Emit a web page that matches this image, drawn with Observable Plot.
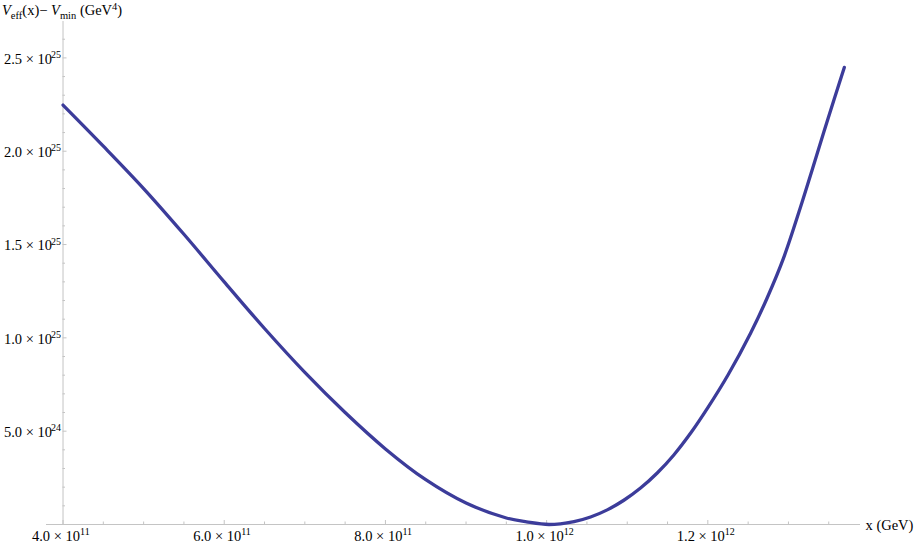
<!DOCTYPE html>
<html>
<head>
<meta charset="utf-8">
<script src="https://cdn.jsdelivr.net/npm/d3@7"></script>
<script src="https://cdn.jsdelivr.net/npm/@observablehq/plot@0.6"></script>
<style>
  html, body { margin: 0; padding: 0; background: #fff; }
  #chart { width: 914px; height: 543px; }
</style>
</head>
<body>
<div id="chart"></div>
<script>
// Curve samples (x in GeV, V_eff(x) - V_min in GeV^4)
const xValues = [
  4.00e11, 4.50e11, 5.00e11, 5.50e11, 6.00e11, 6.50e11, 7.00e11, 7.50e11,
  8.00e11, 8.50e11, 9.00e11, 9.50e11, 9.75e11, 1.003e12, 1.034e12, 1.0545e12,
  1.0752e12, 1.0958e12, 1.1165e12, 1.1372e12, 1.1578e12, 1.1785e12, 1.200e12, 1.225e12,
  1.253e12, 1.2737e12, 1.2939e12, 1.3168e12, 1.3293e12, 1.3478e12, 1.3693e12
];
const yValues = [
  2.247e25, 2.027e25, 1.800e25, 1.555e25, 1.300e25, 1.050e25, 0.815e25, 0.600e25,
  0.405e25, 0.240e25, 0.115e25, 0.035e25, 0.014e25, 0.000e25, 0.0155e25, 0.0401e25,
  0.0784e25, 0.1299e25, 0.1951e25, 0.2758e25, 0.3726e25, 0.4885e25, 0.6261e25, 0.801e25,
  1.025e25, 1.215e25, 1.427e25, 1.725e25, 1.898e25, 2.157e25, 2.449e25
];

// Axis ticks and labels
const xMajorTicks = [4e11, 6e11, 8e11, 1e12, 1.2e12];
const xTickMantissas = ["4.0 \u00d7 10", "6.0 \u00d7 10", "8.0 \u00d7 10", "1.0 \u00d7 10", "1.2 \u00d7 10"];
const xTickExponents = ["11", "11", "11", "12", "12"];
const xMinorTicks = [4.5e11, 5e11, 5.5e11, 6.5e11, 7e11, 7.5e11, 8.5e11, 9e11, 9.5e11,
  1.05e12, 1.1e12, 1.15e12, 1.25e12, 1.3e12, 1.35e12];
const yMajorTicks = [5e24, 1e25, 1.5e25, 2e25, 2.5e25];
const yTickMantissas = ["5.0 \u00d7 10", "1.0 \u00d7 10", "1.5 \u00d7 10", "2.0 \u00d7 10", "2.5 \u00d7 10"];
const yTickExponents = ["24", "25", "25", "25", "25"];
const yMinorTicks = [1e24, 2e24, 3e24, 4e24, 6e24, 7e24, 8e24, 9e24,
  1.1e25, 1.2e25, 1.3e25, 1.4e25, 1.6e25, 1.7e25, 1.8e25, 1.9e25,
  2.1e25, 2.2e25, 2.3e25, 2.4e25, 2.6e25];
const xAxisLabel = "x (GeV)";
const yAxisOrigin = 4e11;

// Scale setup
const W = 914, H = 543;
const margin = {left: 46, right: 54, top: 21, bottom: 19};
const xDomain = [3.795e11, 1.3894e12];
const yDomain = [0, 2.695e25];
const xPerPx = (xDomain[1] - xDomain[0]) / (W - margin.left - margin.right);
const yPerPx = (yDomain[1] - yDomain[0]) / (H - margin.top - margin.bottom);

const axisColor = "#c4c4c4";
const lineColor = "#3c3c9a";
const font = "'Liberation Serif', 'Times New Roman', Times, serif";

const curveData = xValues.map((x, i) => ({x, y: yValues[i]}));
const xTicks = xMajorTicks.map((v, i) => ({v, m: xTickMantissas[i], e: xTickExponents[i]}));
const yTicks = yMajorTicks.map((v, i) => ({v, m: yTickMantissas[i], e: yTickExponents[i]}));

const chart = Plot.plot({
  width: W, height: H,
  marginLeft: margin.left, marginRight: margin.right,
  marginTop: margin.top, marginBottom: margin.bottom,
  x: {domain: xDomain, axis: null},
  y: {domain: yDomain, axis: null},
  style: {fontFamily: font, fontSize: "14px", color: "#000", background: "#fff", overflow: "visible"},
  marks: [
    // axes lines
    Plot.ruleY([0], {stroke: axisColor, strokeWidth: 1}),
    Plot.ruleX([yAxisOrigin], {stroke: axisColor, strokeWidth: 1}),
    // x ticks (inward)
    Plot.ruleX(xMajorTicks, {x: d => d, y1: 0, y2: 4 * yPerPx, stroke: axisColor}),
    Plot.ruleX(xMinorTicks, {x: d => d, y1: 0, y2: 2.5 * yPerPx, stroke: axisColor}),
    // y ticks (inward)
    Plot.ruleY(yMajorTicks, {y: d => d, x1: yAxisOrigin, x2: yAxisOrigin + 4 * xPerPx, stroke: axisColor}),
    Plot.ruleY(yMinorTicks, {y: d => d, x1: yAxisOrigin, x2: yAxisOrigin + 2.5 * xPerPx, stroke: axisColor}),
    // curve
    Plot.line(curveData, {x: "x", y: "y", stroke: lineColor, strokeWidth: 3.3, curve: "catmull-rom"}),
    // x tick labels
    Plot.text(xTicks, {x: "v", y: () => 0, text: "m", textAnchor: "end", dx: 17, dy: 11.5, fontSize: 14.5, fill: "#000"}),
    Plot.text(xTicks, {x: "v", y: () => 0, text: "e", textAnchor: "start", dx: 17, dy: 7.5, fontSize: 10, fill: "#000"}),
    // y tick labels
    Plot.text(yTicks, {x: () => yAxisOrigin, y: "v", text: "m", textAnchor: "end", dx: -11, dy: 1.2, fontSize: 14.5, fill: "#000"}),
    Plot.text(yTicks, {x: () => yAxisOrigin, y: "v", text: "e", textAnchor: "end", dx: -2, dy: -3, fontSize: 10, fill: "#000"}),
    // x axis label
    Plot.text([xAxisLabel], {x: () => xDomain[1], y: () => 0, text: d => d, textAnchor: "start", dx: 5, dy: 1, fontSize: 14.5, fill: "#000"})
  ]
});

// y-axis title with italic V, subscripts and superscript
const svg = d3.select(chart);
const title = svg.append("text")
  .attr("x", 2).attr("y", 15)
  .attr("text-anchor", "start")
  .attr("font-family", font).attr("font-size", 14.5).attr("fill", "#000");
const parts = [
  {t: "V", italic: true},
  {t: "eff", sub: true},
  {t: "(x)\u2212 "},
  {t: "V", italic: true},
  {t: "min", sub: true},
  {t: " (GeV"},
  {t: "4", sup: true},
  {t: ")"}
];
let shift = 0;
for (const p of parts) {
  const target = p.sub ? 3.5 : p.sup ? -5 : 0;
  const ts = title.append("tspan").text(p.t).attr("dy", target - shift);
  shift = target;
  if (p.italic) ts.attr("font-style", "italic");
  if (p.sub || p.sup) ts.attr("font-size", 10.5);
}

document.getElementById("chart").appendChild(chart);
</script>
</body>
</html>
